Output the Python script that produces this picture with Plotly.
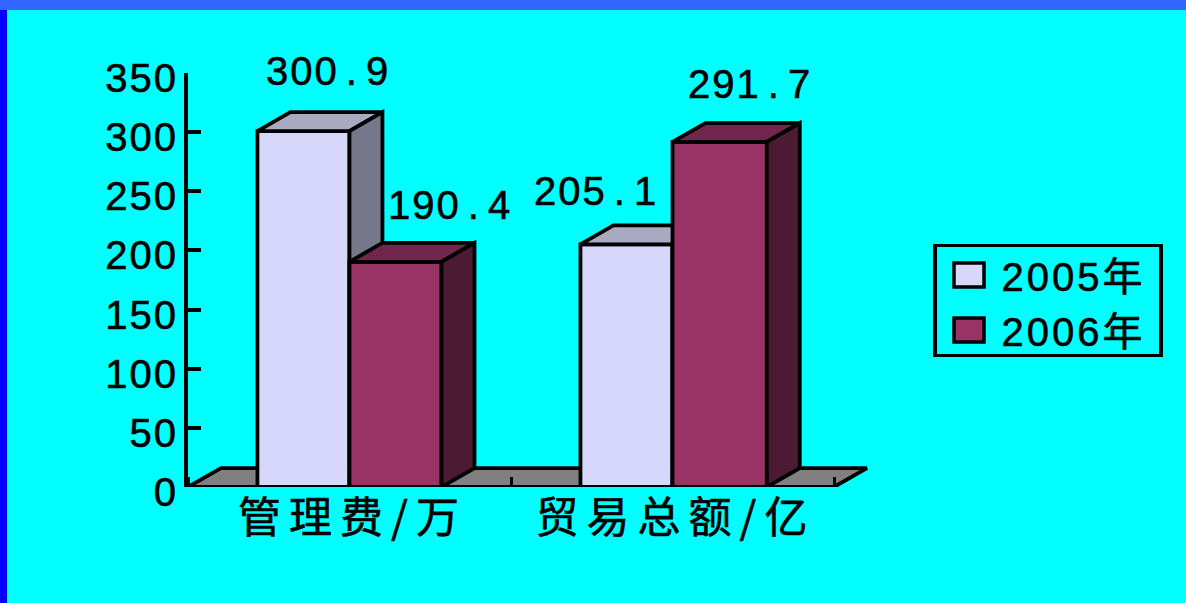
import plotly.graph_objects as go

categories = ["管理费/万", "贸易总额/亿"]
series_names = ["2005年", "2006年"]
values_2005 = [300.9, 205.1]
values_2006 = [190.4, 291.7]
y_ticks = [0, 50, 100, 150, 200, 250, 300, 350]

positions = [0, 1]
BAR_W = 0.285
WIDTHS_2006 = [0.285, 0.292]
DX, DY = 0.102, 16.0
LINE = 3.8
TXT = "Liberation Sans, Noto Sans CJK SC, sans-serif"
CJK = "Noto Sans CJK SC, sans-serif"
FS = 40

fig = go.Figure()

# floor
fig.add_trace(go.Scatter(
    x=[-0.5, -0.5 + DX, 1.5 + DX, 1.5, -0.5], y=[0, DY, DY, 0, 0],
    mode="lines", fill="toself", fillcolor="#808080",
    line=dict(color="black", width=LINE), showlegend=False, hoverinfo="skip",
    xaxis="x", yaxis="y"))


def add_series(name, vals, offset, widths, marker, top, side, xa, ya):
    fig.add_trace(go.Bar(
        x=positions, y=vals, name=name, width=widths, offset=offset,
        marker=dict(line=dict(color="black", width=LINE), **marker),
        xaxis=xa, yaxis=ya))
    for p, v, w in zip(positions, vals, widths):
        x0 = p + offset
        x1 = x0 + w
        fig.add_trace(go.Scatter(
            x=[x0, x0 + DX, x1 + DX, x1, x0], y=[v, v + DY, v + DY, v, v],
            mode="lines", fill="toself", fillcolor=top,
            line=dict(color="black", width=LINE), showlegend=False,
            hoverinfo="skip", xaxis=xa, yaxis=ya))
        fig.add_trace(go.Scatter(
            x=[x1, x1 + DX, x1 + DX, x1, x1], y=[0, DY, v + DY, v, 0],
            mode="lines", fill="toself", fillcolor=side,
            line=dict(color="black", width=LINE), showlegend=False,
            hoverinfo="skip", xaxis=xa, yaxis=ya))


add_series(series_names[0], values_2005, -BAR_W, [BAR_W, BAR_W],
           dict(color="#ffffff", pattern=dict(shape=".", bgcolor="#ffffff", fgcolor="#a4a4f6",
                                              size=2, solidity=0.5, fillmode="replace")),
           "#a9a9c0", "#77778c", "x2", "y2")
add_series(series_names[1], values_2006, 0.0, WIDTHS_2006, dict(color="#993366"),
           "#73264d", "#4d1a33", "x3", "y3")

# data labels
label_shift = [(25, 60), (54, 57), (-30, 53), (31, 58)]
label_pos = [(0 - BAR_W / 2, values_2005[0]), (0 + BAR_W / 2, values_2006[0]),
             (1 - BAR_W / 2, values_2005[1]), (1 + BAR_W / 2, values_2006[1])]
for (px, v), (sx, sy) in zip(label_pos, label_shift):
    fig.add_annotation(
        x=px, y=v, xref="x", yref="y", xshift=sx, yshift=sy,
        text=f"{v:.1f}".replace(".", " . "), showarrow=False,
        font=dict(family=TXT, size=FS, color="black"))

x_range = [-0.5, 1.5 + 36 / 323]
y_range = [0, 350]
hidden = dict(visible=False, showgrid=False, zeroline=False)

fig.update_layout(
    width=1186, height=603,
    margin=dict(l=188, r=316, t=73, b=116, autoexpand=False),
    paper_bgcolor="#00ffff", plot_bgcolor="rgba(0,0,0,0)",
    barmode="overlay", hovermode=False,
    font=dict(family=TXT, size=FS, color="black"),
    xaxis=dict(
        range=x_range, showgrid=False, zeroline=False, showline=False,
        tickmode="array", tickvals=positions, ticktext=categories, ticks="",
        tickfont=dict(family=CJK, size=43, color="black"),
        ticklabelstandoff=2, ticklabelshift=3,
        minor=dict(tickmode="array", tickvals=[-0.5, 0.5, 1.5], ticks="inside",
                   ticklen=10, tickwidth=3, tickcolor="black", showgrid=False),
    ),
    yaxis=dict(
        range=y_range, showgrid=False, zeroline=False, showline=True,
        linecolor="black", linewidth=4, tickmode="array", tickvals=y_ticks,
        ticks="inside", ticklen=13, tickwidth=3.5, tickcolor="black",
        tickfont=dict(family=TXT, size=FS, color="black"),
        ticklabelstandoff=0, ticklabelshift=5,
    ),
    xaxis2=dict(overlaying="x", matches="x", **hidden),
    yaxis2=dict(overlaying="y", matches="y", **hidden),
    xaxis3=dict(overlaying="x", matches="x", **hidden),
    yaxis3=dict(overlaying="y", matches="y", **hidden),
    legend=dict(
        x=(933 - 188) / 682, y=1 - (239 - 73) / 414, xanchor="left", yanchor="top",
        bgcolor="rgba(0,0,0,0)", bordercolor="black", borderwidth=3.5,
        font=dict(family=TXT, size=FS, color="black"), itemclick=False,
        itemdoubleclick=False, itemwidth=55,
    ),
    shapes=[
        dict(type="rect", xref="paper", yref="paper", layer="below",
             x0=-188 / 682, x1=(1186 - 188) / 682, y0=1 + 63 / 414, y1=1 + 73 / 414,
             fillcolor="#3366ff", line_width=0),
        dict(type="rect", xref="paper", yref="paper", layer="below",
             x0=-188 / 682, x1=-181 / 682, y0=-116 / 414, y1=1 + 63 / 414,
             fillcolor="#0000ff", line_width=0),
    ],
)

post = """
document.body.style.margin='0';
function heavy(t){t.style.stroke='black';t.style.strokeWidth='0.6px';}
function applyTweaks(){
  document.querySelectorAll('.xtick text').forEach(function(t){t.style.letterSpacing='8px';heavy(t);});
  document.querySelectorAll('.ytick text').forEach(function(t){
    t.style.letterSpacing='2px';t.setAttribute('dx','2');heavy(t);});
  document.querySelectorAll('.annotation-text').forEach(function(t){
    t.style.letterSpacing='2px';t.style.wordSpacing='-6px';heavy(t);});
  document.querySelectorAll('.legendtext').forEach(function(t){t.style.letterSpacing='3px';heavy(t);});
  document.querySelectorAll('.legendpoints path').forEach(function(p){
    p.setAttribute('d','M15,12H-15V-12H15Z');p.style.strokeWidth='3.5px';});
  document.querySelectorAll('.legend rect.bg').forEach(function(r){
    r.setAttribute('y','6.5');r.setAttribute('height','110');r.setAttribute('width','226');});
  document.querySelectorAll('.legend .scrollbox, .legend').forEach(function(s){
    s.removeAttribute('clip-path');s.style.clipPath='none';});
}
applyTweaks();
setTimeout(applyTweaks,100);
var gd=document.getElementById('{plot_id}');
if(gd&&gd.on){gd.on('plotly_afterplot',applyTweaks);}
"""
fig.write_html("out.html", post_script=post, config={"displayModeBar": False})
